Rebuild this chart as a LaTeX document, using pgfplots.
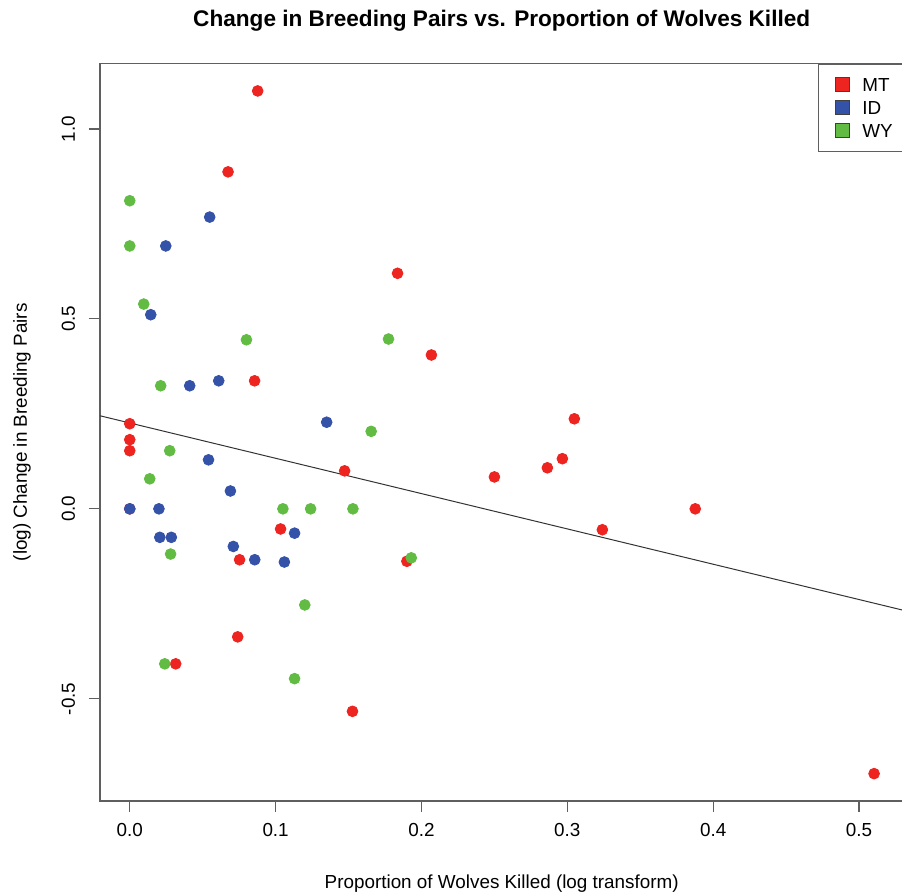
\documentclass[border=0pt]{standalone}
\usepackage{fontspec}
\setmainfont{Liberation Sans}
\usepackage{pgfplots}
\pgfplotsset{compat=1.18}
\definecolor{mtred}{RGB}{238,36,32}
\definecolor{idblue}{RGB}{52,82,168}
\definecolor{wygreen}{RGB}{98,188,68}
\definecolor{boxgray}{RGB}{95,95,95}
\pgfplotsset{legsq/.style={legend image code/.code={
  \path (0pt,0pt);
  \draw[fill=#1, draw=black!75, line width=0.5pt] (3.5pt,-3.5pt) rectangle (10.5pt,3.5pt);}}}
\begin{document}
\fontsize{9.43pt}{11.3pt}\selectfont
\begin{tikzpicture}
\begin{axis}[
  at={(50pt,46.5pt)}, anchor=south west,
  scale only axis, width=401.7pt, height=368.7pt,
  xmin=-0.0204, xmax=0.5304, ymin=-0.769, ymax=1.172,
  axis line style={boxgray, line width=0.6pt},
  tick style={boxgray, line width=0.6pt},
  tick align=outside, xtick pos=bottom, ytick pos=left,
  major tick length=5.5pt,
  xtick={0,0.1,0.2,0.3,0.4,0.5},
  xticklabels={0.0,0.1,0.2,0.3,0.4,0.5},
  ytick={-0.5,0,0.5,1},
  yticklabels={-0.5,0.0,0.5,1.0},
  xticklabel style={anchor=base, inner sep=0pt},
  yticklabel style={rotate=90, anchor=base, inner sep=0pt},
  xticklabel shift=12.35pt,
  yticklabel shift=7pt,
  title={Change in Breeding Pairs vs. Proportion of Wolves Killed},
  title style={at={(0.5,1)}, anchor=base, yshift=12.3pt,
    font=\fontsize{11.3pt}{13.6pt}\bfseries},
  xlabel={Proportion of Wolves Killed (log transform)},
  ylabel={(log) Change in Breeding Pairs},
  xlabel style={at={(axis description cs:0.5,-0.118)}, anchor=base},
  ylabel style={at={(axis description cs:-0.0909,0.5)}, anchor=base},
  legend style={at={(1,1)}, anchor=north east, draw=boxgray,
    line width=0.6pt, fill=white, inner xsep=5pt, inner ysep=6.6pt,
    row sep=4pt, column sep=6pt,
    nodes={inner sep=0pt, text height=6.75pt, text depth=0pt}},
  legend cell align=left,
]
% MT
\addplot[only marks, mark=*, mark size=2.7pt, color=mtred, legsq=mtred]
  coordinates {
    (0.0877,1.100) (0.0674,0.887) (0.1836,0.620) (0.2068,0.405)
    (0.0856,0.337) (0.3048,0.237) (0,0.224) (0,0.182) (0,0.153)
    (0.2966,0.132) (0.2863,0.108) (0.1473,0.100) (0.2500,0.084)
    (0.3877,0) (0.3240,-0.055) (0.1034,-0.053) (0.0753,-0.134)
    (0.1900,-0.138) (0.0740,-0.337) (0.0315,-0.408) (0.1527,-0.533)
    (0.5103,-0.697) (0,0)
  };
\addlegendentry{MT}
% ID
\addplot[only marks, mark=*, mark size=2.7pt, color=idblue, legsq=idblue]
  coordinates {
    (0.0548,0.768) (0.0247,0.692) (0.0144,0.511) (0.0411,0.324)
    (0.0610,0.337) (0.1350,0.228) (0.0540,0.129) (0.0690,0.047)
    (0,0) (0.0200,0) (0.1130,-0.064) (0.0206,-0.075) (0.0285,-0.075)
    (0.0710,-0.099) (0.0857,-0.134) (0.1060,-0.140)
  };
\addlegendentry{ID}
% WY
\addplot[only marks, mark=*, mark size=2.7pt, color=wygreen, legsq=wygreen]
  coordinates {
    (0,0.811) (0,0.692) (0.0096,0.539) (0.0800,0.445) (0.0212,0.324)
    (0.1774,0.447) (0.1655,0.204) (0.0274,0.153) (0.0137,0.079)
    (0.1050,0) (0.1240,0) (0.1530,0) (0.0280,-0.119) (0.1930,-0.129)
    (0.1200,-0.253) (0.0240,-0.408) (0.1130,-0.447)
  };
\addlegendentry{WY}
% fitted line
\addplot[forget plot, black!80, line width=0.5pt]
  coordinates {(-0.0204,0.245) (0.5304,-0.267)};
\end{axis}
\pgfresetboundingbox
\useasboundingbox (0,0) rectangle (451pt,447pt);
\end{tikzpicture}
\end{document}
